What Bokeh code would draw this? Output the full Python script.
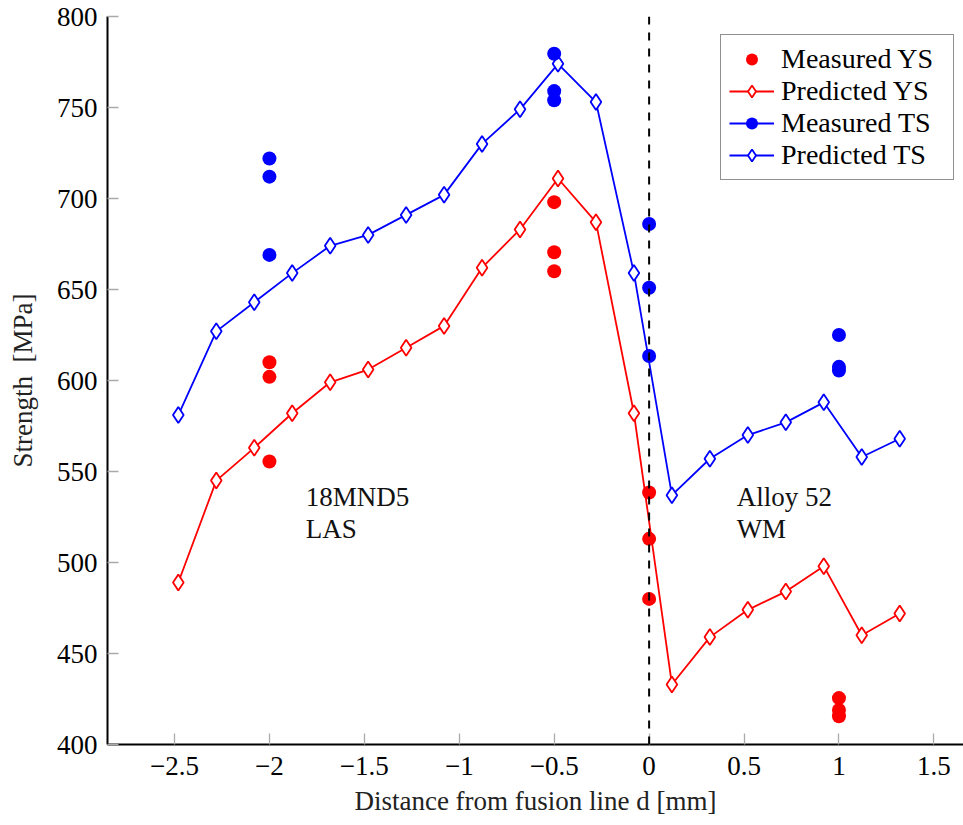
from bokeh.plotting import figure
from bokeh.models import Range1d, FixedTicker, Span, Label, Legend, LegendItem, ColumnDataSource
from bokeh.embed import file_html
from bokeh.resources import INLINE

# ---- data ----
pred_x = [-2.48, -2.28, -2.08, -1.88, -1.68, -1.48, -1.28, -1.08, -0.88, -0.68,
          -0.48, -0.28, -0.08, 0.12, 0.32, 0.52, 0.72, 0.92, 1.12, 1.32]
pred_ts = [581, 627, 643, 659, 674, 680, 691, 702, 730, 749,
           774, 753, 659, 537, 557, 570, 577, 588, 558, 568]
pred_ys = [489, 545, 563, 582, 599, 606, 618, 630, 662, 683,
           711, 687, 582, 433, 459, 474, 484, 498, 460, 472]

meas_x = [-2, -2, -2, -0.5, -0.5, -0.5, 0, 0, 0, 1, 1, 1]
meas_ts = [722, 712, 669, 779.5, 759, 754, 686, 651, 613.5, 625, 607.5, 605.5]
meas_ys = [610, 602, 555.5, 698, 670.5, 660, 538.5, 513, 480, 425.5, 419, 415.5]

x_ticks = [-2.5, -2, -1.5, -1, -0.5, 0, 0.5, 1, 1.5]
x_tick_labels = ["\u22122.5", "\u22122", "\u22121.5", "\u22121", "\u22120.5", "0", "0.5", "1", "1.5"]
y_ticks = [400, 450, 500, 550, 600, 650, 700, 750, 800]

FONT = "Liberation Serif"
RED = "#ff0000"
BLUE = "#0000ff"

p = figure(width=963, height=825, output_backend="svg", toolbar_location=None,
           x_range=Range1d(-2.853, 1.656), y_range=Range1d(400, 800),
           min_border_left=107, min_border_right=0, min_border_top=16, min_border_bottom=81,
           x_axis_location="below", y_axis_location="left")
p.outline_line_color = None
p.grid.visible = False
p.background_fill_color = "white"
p.border_fill_color = "white"

for ax in (p.xaxis[0], p.yaxis[0]):
    ax.axis_line_color = "black"
    ax.axis_line_width = 2
    ax.major_tick_in = 11
    ax.major_tick_out = 0
    ax.major_tick_line_color = "#aaaaaa"
    ax.major_tick_line_width = 1.3
    ax.minor_tick_line_color = None
    ax.major_label_text_font = FONT
    ax.major_label_text_font_size = "27px"
    ax.major_label_text_color = "black"
    ax.axis_label_text_font = FONT
    ax.axis_label_text_font_size = "27px"
    ax.axis_label_text_font_style = "normal"
    ax.axis_label_text_color = "#222222"

p.xaxis.ticker = FixedTicker(ticks=x_ticks)
p.xaxis.major_label_overrides = {t: l for t, l in zip(x_ticks, x_tick_labels)}
p.xaxis.major_label_standoff = 12
p.xaxis.axis_label = "Distance from fusion line d [mm]"
p.xaxis.axis_label_standoff = 8

p.yaxis.ticker = FixedTicker(ticks=y_ticks)
p.yaxis.major_label_standoff = 10
p.yaxis.axis_label = "Strength\u00a0 [MPa]"
p.yaxis.axis_label_standoff = 16

# fusion line
p.add_layout(Span(location=0, dimension="height", line_color="black",
                  line_width=2, line_dash="8 8"))

src_pred = ColumnDataSource(dict(x=pred_x, ts=pred_ts, ys=pred_ys))
src_meas = ColumnDataSource(dict(x=meas_x, ts=meas_ts, ys=meas_ys))

# predicted YS
l_pys = p.line("x", "ys", source=src_pred, line_color=RED, line_width=1.8)
m_pys = p.scatter("x", "ys", source=src_pred, marker="diamond", size=16,
                  line_color=RED, line_width=1.8, fill_color="white")
# predicted TS
l_pts = p.line("x", "ts", source=src_pred, line_color=BLUE, line_width=1.8)
m_pts = p.scatter("x", "ts", source=src_pred, marker="diamond", size=16,
                  line_color=BLUE, line_width=1.8, fill_color="white")
# measured
m_mys = p.scatter("x", "ys", source=src_meas, marker="circle", size=14,
                  line_color=None, fill_color=RED)
m_mts = p.scatter("x", "ts", source=src_meas, marker="circle", size=14,
                  line_color=None, fill_color=BLUE)
l_mts = p.line("x", "ts", source=src_meas, line_color=BLUE, line_width=1.8)
l_mts.visible = False

# annotations
for txt, x, y in [("18MND5", -1.809, 535.8), ("LAS", -1.809, 518.2),
                  ("Alloy 52", 0.461, 535.8), ("WM", 0.461, 518.2)]:
    p.add_layout(Label(x=x, y=y, text=txt, text_font=FONT, text_font_size="27px",
                       text_color="#111111", text_align="left", text_baseline="alphabetic"))

legend = Legend(items=[
    LegendItem(label="Measured YS", renderers=[m_mys]),
    LegendItem(label="Predicted YS", renderers=[l_pys, m_pys]),
    LegendItem(label="Measured TS", renderers=[l_mts, m_mts]),
    LegendItem(label="Predicted TS", renderers=[l_pts, m_pts]),
], location=(613, 564))
legend.label_text_font = FONT
legend.label_text_font_size = "28px"
legend.label_text_color = "black"
legend.glyph_width = 45
legend.glyph_height = 30
legend.label_height = 30
legend.label_width = 164
legend.label_standoff = 7
legend.spacing = 0
legend.padding = 8
legend.margin = 0
legend.border_line_color = "#222222"
legend.border_line_width = 1.5
legend.background_fill_color = "white"
legend.background_fill_alpha = 1.0
p.add_layout(legend)

open("out.html", "w").write(file_html(p, INLINE))
